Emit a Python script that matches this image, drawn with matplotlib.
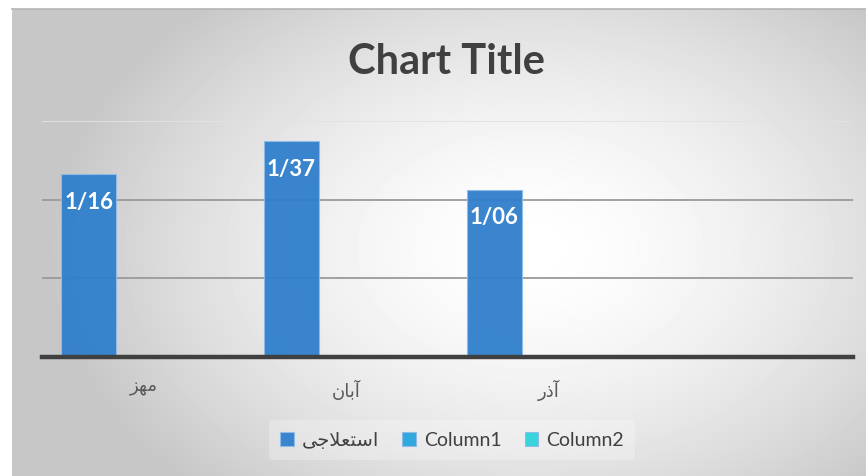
import numpy as np
import matplotlib
matplotlib.use("Agg")
import matplotlib.pyplot as plt

# category labels (Persian, written as presentation forms in visual order so they render joined)
categories = ["\uFEB0\uFEEC\uFEE3", "\uFEE5\uFE8E\uFE91\uFE81", "\uFEAD\uFEAB\uFE81", ""]
series_names = ["\uFEF0\uFE9F\uFEFC\uFECC\uFE98\uFEB3\uFE8D", "Column1", "Column2"]
estelaji = [1.16, 1.37, 1.06, np.nan]
column1 = [np.nan, np.nan, np.nan, np.nan]
column2 = [np.nan, np.nan, np.nan, np.nan]
colors = ["#2F7FCC", "#27A6DE", "#2DD3DA"]

W, H = 866, 477
fonts = ["Lato", "DejaVu Sans"]
plt.rcParams["font.family"] = fonts

fig = plt.figure(figsize=(W / 100, H / 100), dpi=100)
fig.patch.set_facecolor("white")

# chart area background with radial gradient
bg = fig.add_axes([12 / W, 0, 1 - 12 / W, (H - 10) / H])
gx, gy = np.meshgrid(np.arange(12, W), np.arange(10, H))
d = np.sqrt(((gx - 530) / 480.0) ** 2 + ((gy - 250) / 330.0) ** 2)
shade = 1 - 0.22 * np.clip(d, 0, 1) ** 1.6
bg.imshow(shade, cmap="gray", vmin=0, vmax=1, aspect="auto", interpolation="bilinear")
bg.set_xticks([])
bg.set_yticks([])
for s in ["left", "right", "bottom"]:
    bg.spines[s].set_visible(False)
bg.spines["top"].set_color("#b4b4b4")
bg.spines["top"].set_linewidth(1.2)

ax = fig.add_axes([42 / W, (H - 358) / H, (853 - 42) / W, (358 - 122) / H])
ax.patch.set_visible(False)

x = np.arange(len(categories))
bw = 0.27
for i, (vals, name, c) in enumerate(zip([estelaji, column1, column2], series_names, colors)):
    bars = ax.bar(x + (i - 1) * bw, vals, bw, color=c, alpha=0.95, edgecolor="#8fbce8",
                  linewidth=0.8, label=name, zorder=2)
    if i == 0:
        for b, v in zip(bars, vals):
            if np.isnan(v):
                continue
            ax.text(b.get_x() + b.get_width() / 2, v - 0.17, f"{v:.2f}".replace(".", "/"),
                    ha="center", va="center", color="white", fontsize=16, fontweight="bold", zorder=3)

ax.set_xlim(-0.5, len(categories) - 0.5)
ax.set_ylim(0, 1.5)
ax.set_yticks([0.5, 1.0, 1.5])
ax.yaxis.grid(True, color="#9a9a9a", linewidth=1.3, zorder=1)
ax.get_ygridlines()[-1].set_color("#e2e2e2")
ax.set_axisbelow(True)
ax.tick_params(axis="y", length=0, labelleft=False)
ax.set_xticks(x)
ax.set_xticklabels(categories, fontsize=13, color="#595959")
ax.tick_params(axis="x", length=0, pad=16)
for s in ["left", "right", "top"]:
    ax.spines[s].set_visible(False)
ax.spines["bottom"].set_color("#404040")
ax.spines["bottom"].set_linewidth(3.2)
ax.spines["bottom"].set_zorder(4)

fig.text(447 / W, 1 - 62 / H, "Chart Title", ha="center", va="center",
         fontsize=30, fontweight="bold", color="#404040")

leg = fig.legend(loc="center", bbox_to_anchor=(452 / W, 1 - 441 / H), ncol=3, frameon=True,
                 fontsize=14, handlelength=0.7, handleheight=0.7, handletextpad=0.4,
                 columnspacing=1.2, borderpad=0.6)
leg.get_frame().set_facecolor("white")
leg.get_frame().set_alpha(0.25)
leg.get_frame().set_edgecolor("none")
for t in leg.get_texts():
    t.set_color("#404040")

plt.savefig("out.png", dpi=100)
